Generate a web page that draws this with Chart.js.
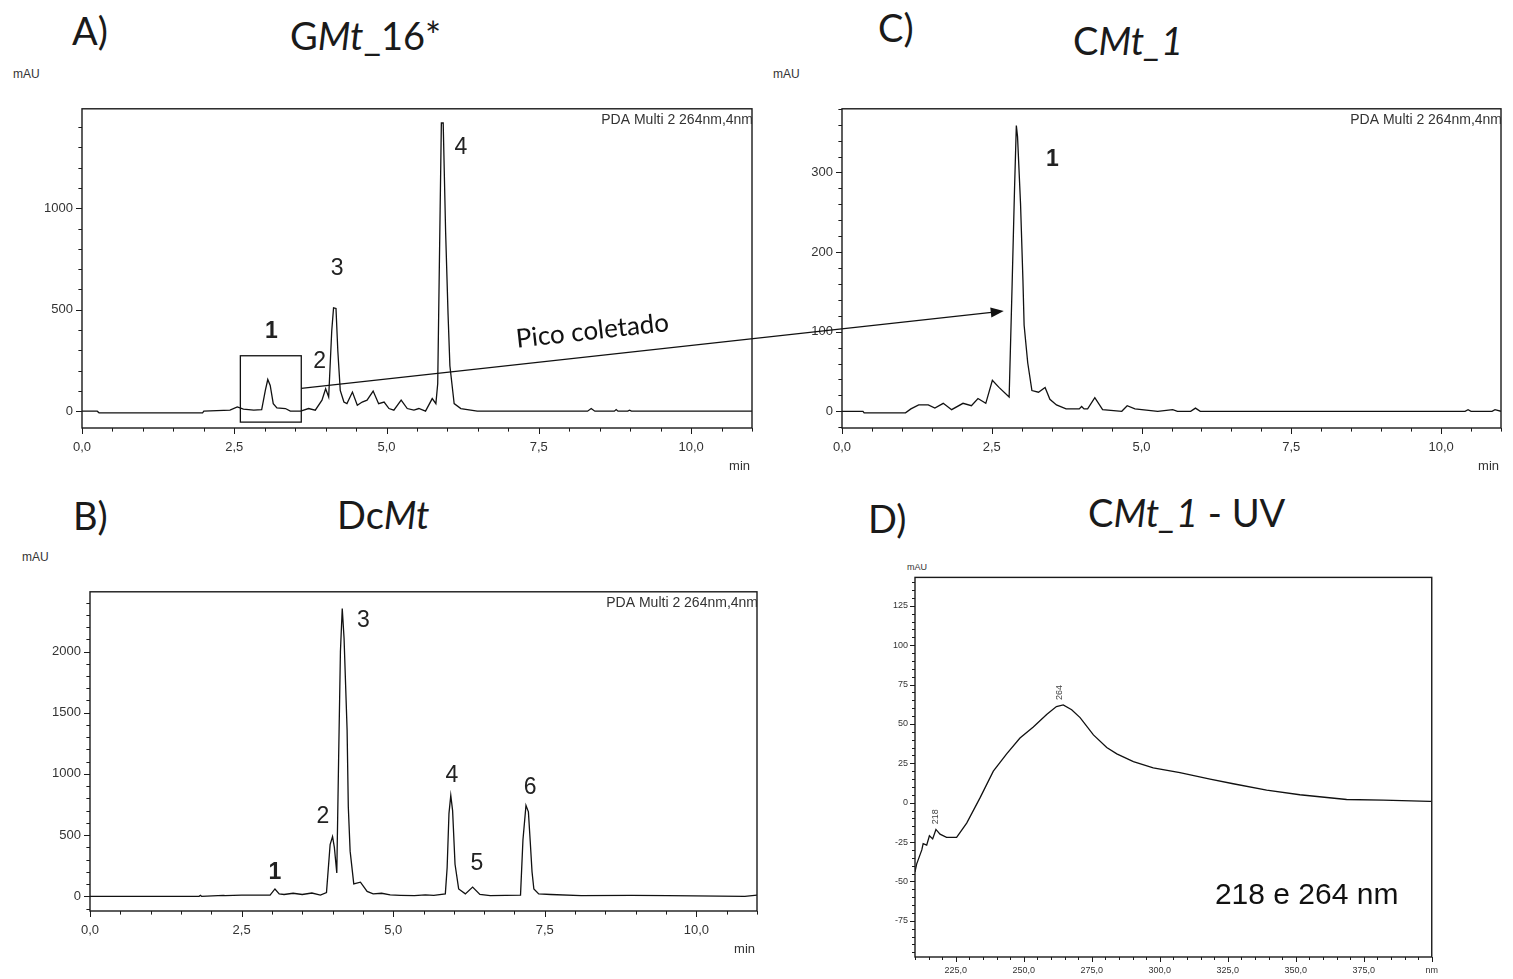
<!DOCTYPE html>
<html>
<head>
<meta charset="utf-8">
<title>Cromatogramas</title>
<script src="https://cdn.jsdelivr.net/npm/chart.js@4.4.1/dist/chart.umd.min.js"></script>
<style>
  html, body { margin: 0; padding: 0; background: #fff; }
  body { position: relative; width: 1513px; height: 979px; overflow: hidden; }
  canvas { position: absolute; }
  .title { position: absolute; font-family: Lato, 'Open Sans', sans-serif; font-size: 38px; line-height: 38px; color: #1a1a1a; white-space: nowrap; }
  .unit { position: absolute; font-family: 'Liberation Sans', Arial, sans-serif; font-size: 12px; color: #333; }
  #overlay { left: 0; top: 0; z-index: 5; pointer-events: none; }
</style>
</head>
<body>
<div class="title" style="left:72px;top:11px">A)</div>
<div class="title" style="left:290px;top:16px">G<i>Mt</i>_16*</div>
<div class="title" style="left:878px;top:8px">C)</div>
<div class="title" style="left:1073px;top:21px">C<i>Mt_1</i></div>
<div class="title" style="left:73px;top:496px">B)</div>
<div class="title" style="left:337px;top:495px">Dc<i>Mt</i></div>
<div class="title" style="left:868px;top:499px">D)</div>
<div class="title" style="left:1088px;top:493px">C<i>Mt_1</i> - UV</div>
<div class="unit" style="left:13px;top:67px">mAU</div>
<div class="unit" style="left:773px;top:67px">mAU</div>
<div class="unit" style="left:22px;top:550px">mAU</div>
<div class="unit" style="left:907px;top:562px;font-size:9px">mAU</div>
<canvas id="chartA"></canvas>
<canvas id="chartC"></canvas>
<canvas id="chartB"></canvas>
<canvas id="chartD"></canvas>
<canvas id="overlay" width="1513" height="979"></canvas>
<script>
// A) GMt_16* - retention time (min) / absorbance (mAU)
var timeA = [0, 0.25, 0.28, 1.98, 2.0, 2.43, 2.55, 2.65, 2.82, 2.95, 3.01, 3.05, 3.09, 3.14, 3.2,
  3.34, 3.42, 3.59, 3.72, 3.83, 3.94, 4.0, 4.05, 4.1, 4.13, 4.17, 4.2, 4.24, 4.3, 4.35,
  4.44, 4.52, 4.6, 4.68, 4.78, 4.87, 4.96, 5.04, 5.12, 5.24, 5.34, 5.45, 5.53, 5.64, 5.75,
  5.81, 5.84, 5.88, 5.9, 5.93, 5.97, 6.01, 6.04, 6.11, 6.22, 6.49, 8.3, 8.36, 8.42, 8.74,
  8.77, 8.8, 8.96, 8.99, 9.02, 11.0];
var mauA = [0, 0, -8, -8, 0, 5, 21, 10, 5, 8, 102, 156, 127, 37, 16,
  13, 0, 0, 13, 5, 54, 110, 70, 395, 509, 506, 298, 102, 45, 37,
  94, 29, 45, 54, 99, 37, 45, 13, 5, 54, 13, 5, 13, 0, 62,
  37, 135, 997, 1420, 1420, 882, 476, 224, 37, 13, 0, 0, 13, 0, 0,
  8, 0, 0, 5, 0, 0];

// C) CMt_1
var timeC = [0, 0.35, 0.37, 1.06, 1.15, 1.28, 1.44, 1.55, 1.69, 1.83, 2.02, 2.16, 2.27, 2.4, 2.51,
  2.62, 2.79, 2.84, 2.88, 2.91, 2.93, 2.98, 3.02, 3.04, 3.1, 3.17, 3.28, 3.39, 3.47, 3.58,
  3.74, 3.96, 4.0, 4.04, 4.1, 4.22, 4.35, 4.67, 4.76, 4.89, 5.27, 5.52, 5.6, 5.82, 5.9,
  5.98, 10.4, 10.45, 10.5, 10.85, 10.9, 11.0];
var mauC = [0, 0, -2, -2, 3, 8, 8, 4, 10, 2, 10, 7, 16, 10, 39,
  30, 18, 160, 280, 359, 345, 261, 165, 108, 61, 26, 24, 30, 15, 8,
  3, 3, 6, 3, 3, 17, 2, 0, 7, 3, 0, 2, 0, 0, 4,
  0, 0, 2, 0, 0, 2, 0];

// B) DcMt
var timeB = [0, 1.8, 1.82, 1.84, 2.2, 2.23, 2.5, 2.97, 3.05, 3.12, 3.2, 3.35, 3.5, 3.66, 3.8,
  3.9, 3.96, 4.0, 4.03, 4.07, 4.1, 4.13, 4.16, 4.19, 4.24, 4.26, 4.29, 4.35, 4.46, 4.57,
  4.67, 4.81, 4.95, 5.12, 5.35, 5.53, 5.67, 5.86, 5.89, 5.92, 5.95, 5.98, 6.02, 6.08, 6.19,
  6.31, 6.43, 6.6, 7.1, 7.14, 7.19, 7.23, 7.26, 7.29, 7.32, 7.4, 7.6, 8.1, 8.93, 9.53,
  10.8, 11.0];
var mauB = [0, 0, 8, 0, 8, 5, 10, 10, 60, 20, 15, 25, 15, 27, 10,
  30, 422, 488, 400, 190, 1118, 2000, 2352, 2107, 1358, 730, 369, 102, 115, 40,
  20, 25, 12, 8, 5, 12, 8, 20, 235, 676, 824, 700, 262, 60, 20,
  75, 15, 5, 10, 460, 743, 690, 450, 200, 60, 20, 15, 5, 8, 5,
  0, 10];

// D) CMt_1 UV spectrum - wavelength (nm) / absorbance (mAU)
var waveD = [210, 210.6, 212.5, 213, 214.3, 215.3, 216.5, 217.7, 219.2, 221.6, 225.3, 229, 233.9,
  238.8, 243.7, 248.6, 253.5, 258.4, 262, 264.5, 267.6, 270.7, 275.6, 280.5, 284.2, 290.3,
  297.6, 307.4, 318.5, 327, 339.3, 351.5, 368.7, 382.2, 399.3, 400];
var absD = [-44, -39, -30, -26, -27, -21, -23, -17, -20, -22, -22, -13, 3,
  20, 31, 41, 48, 56, 61, 62, 59, 54, 43, 35, 31, 26,
  22, 19, 15, 12, 8, 5, 2, 1.6, 0.8, 0.8];

// peak numbers: [x, y, text, bold]
var peaksA = [[3.11, 390, '1', true], [3.9, 244, '2'], [4.19, 702, '3'], [6.22, 1298, '4']];
var peaksC = [[3.51, 316, '1', true]];
var peaksB = [[3.05, 194, '1', true], [3.84, 648, '2'], [4.51, 2256, '3'], [5.97, 986, '4'], [6.38, 266, '5'], [7.26, 888, '6']];
var maximaD = [[217.4, -9, '218'], [263.3, 70, '264']];

var axisFont = 'Liberation Sans';
var detector = 'PDA Multi 2 264nm,4nm';

function comma(v) { return v.toFixed(1).replace('.', ','); }
function isMult(v, m) { var r = v / m; return Math.abs(r - Math.round(r)) < 1e-6; }

// ticks at every multiple of step inside the axis range
function stepTicks(step) {
  return function (scale) {
    var t = [];
    for (var k = Math.ceil(scale.min / step - 1e-9); k * step <= scale.max + 1e-9; k++) {
      t.push({ value: Math.round(k * step * 1000) / 1000 });
    }
    scale.ticks = t;
  };
}

function drawPeaks(chart, ctx, list) {
  ctx.fillStyle = '#222';
  ctx.textAlign = 'center';
  ctx.textBaseline = 'middle';
  list.forEach(function (p) {
    ctx.font = (p[3] ? 'bold ' : '') + '23px ' + axisFont;
    ctx.fillText(p[2], chart.scales.x.getPixelForValue(p[0]), chart.scales.y.getPixelForValue(p[1]));
  });
}

// frame, tick marks and texts inside the plot
function frame(spec) {
  return {
    id: 'frame',
    afterDraw: function (chart) {
      var ctx = chart.ctx, a = chart.chartArea, sx = chart.scales.x, sy = chart.scales.y;
      ctx.save();
      ctx.strokeStyle = '#1a1a1a';
      ctx.lineWidth = 1.4;
      ctx.strokeRect(a.left, a.top, a.right - a.left, a.bottom - a.top);
      ctx.lineWidth = 1;
      ctx.beginPath();
      sx.ticks.forEach(function (t) {
        var px = Math.round(sx.getPixelForValue(t.value)) + 0.5;
        var len = isMult(t.value, spec.xMajor) ? spec.tick : spec.tick * 0.6;
        ctx.moveTo(px, a.bottom); ctx.lineTo(px, a.bottom + len);
      });
      sy.ticks.forEach(function (t) {
        var py = Math.round(sy.getPixelForValue(t.value)) + 0.5;
        var len = isMult(t.value, spec.yMajor) ? spec.tick : spec.tick * 0.6;
        ctx.moveTo(a.left, py); ctx.lineTo(a.left - len, py);
      });
      ctx.stroke();
      ctx.fillStyle = '#333';
      ctx.textAlign = 'right';
      ctx.textBaseline = 'alphabetic';
      if (spec.note) {
        ctx.font = '14px ' + axisFont;
        ctx.fillText(spec.note, a.right + 1, a.top + 15);
      }
      if (spec.unit) {
        ctx.font = '13px ' + axisFont;
        ctx.fillText(spec.unit, a.right - 2, a.bottom + 42);
      }
      if (spec.draw) spec.draw(chart, ctx);
      ctx.restore();
    }
  };
}

function buildChart(id, area, xs, values, spec) {
  var cv = document.getElementById(id);
  cv.width = area.r - area.l + 60 + spec.padR;
  cv.height = area.b - area.t + 60;
  cv.style.left = (area.l - 60) + 'px';
  cv.style.top = (area.t - 10) + 'px';
  return new Chart(cv, {
    type: 'line',
    data: {
      datasets: [{
        data: xs.map(function (x, i) { return { x: x, y: values[i] }; }),
        borderColor: '#111', borderWidth: 1.3, pointRadius: 0, tension: 0, fill: false
      }]
    },
    options: {
      responsive: false, animation: false, events: [],
      layout: { padding: { top: 10, right: spec.padR, left: 0, bottom: 0 } },
      plugins: { legend: { display: false }, tooltip: { enabled: false } },
      scales: {
        x: {
          type: 'linear', min: spec.xMin, max: spec.xMax,
          afterBuildTicks: stepTicks(spec.xStep),
          afterFit: function (s) { s.height = 50; },
          grid: { display: false, drawTicks: false }, border: { display: false },
          ticks: { autoSkip: false, maxRotation: 0,
            padding: spec.xPad, color: '#333', font: { family: axisFont, size: spec.font },
            callback: spec.xLabel }
        },
        y: {
          type: 'linear', min: spec.yMin, max: spec.yMax,
          afterBuildTicks: stepTicks(spec.yStep),
          afterFit: function (s) { s.width = 60; },
          grid: { display: false, drawTicks: false }, border: { display: false },
          ticks: { autoSkip: false,
            padding: spec.yPad, color: '#333', font: { family: axisFont, size: spec.font },
            callback: spec.yLabel }
        }
      }
    },
    plugins: [frame(spec)]
  });
}

function timeLabel(v) { return isMult(v, 2.5) ? comma(v) : ''; }

var chartA = buildChart('chartA', { l: 82, t: 102, r: 752, b: 428 }, timeA, mauA, {
  xMin: 0, xMax: 11, xStep: 0.5, xMajor: 2.5, yMin: -83, yMax: 1490, yStep: 100, yMajor: 500,
  tick: 6, font: 13, xPad: 12, yPad: 9, padR: 18, unit: 'min', note: detector,
  xLabel: timeLabel,
  yLabel: function (v) { return isMult(v, 500) ? String(v) : ''; },
  draw: function (chart, ctx) {
    drawPeaks(chart, ctx, peaksA);
    var sx = chart.scales.x, sy = chart.scales.y;
    var x0 = sx.getPixelForValue(2.6), x1 = sx.getPixelForValue(3.6);
    var y0 = sy.getPixelForValue(273), y1 = sy.getPixelForValue(-54);
    ctx.strokeStyle = '#111';
    ctx.lineWidth = 1.3;
    ctx.strokeRect(x0, y0, x1 - x0, y1 - y0);
  }
});

var chartC = buildChart('chartC', { l: 842, t: 102, r: 1512, b: 428 }, timeC, mauC, {
  xMin: 0, xMax: 11, xStep: 0.5, xMajor: 2.5, yMin: -21, yMax: 380, yStep: 20, yMajor: 100,
  tick: 6, font: 13, xPad: 12, yPad: 9, padR: 1, unit: 'min', note: detector,
  xLabel: timeLabel,
  yLabel: function (v) { return isMult(v, 100) ? String(v) : ''; },
  draw: function (chart, ctx) { drawPeaks(chart, ctx, peaksC); }
});

var chartB = buildChart('chartB', { l: 90, t: 585, r: 757, b: 911 }, timeB, mauB, {
  xMin: 0, xMax: 11, xStep: 0.5, xMajor: 2.5, yMin: -120, yMax: 2488, yStep: 100, yMajor: 500,
  tick: 6, font: 13, xPad: 12, yPad: 9, padR: 18, unit: 'min', note: detector,
  xLabel: timeLabel,
  yLabel: function (v) { return isMult(v, 500) ? String(v) : ''; },
  draw: function (chart, ctx) { drawPeaks(chart, ctx, peaksB); }
});

var chartD = buildChart('chartD', { l: 915, t: 575, r: 1432, b: 957 }, waveD, absD, {
  xMin: 210, xMax: 400, xStep: 5, xMajor: 25, yMin: -98, yMax: 143, yStep: 5, yMajor: 25,
  tick: 5, font: 9, xPad: 8, yPad: 7, padR: 14,
  xLabel: function (v) { return v === 400 ? 'nm' : (isMult(v, 25) ? comma(v) : ''); },
  yLabel: function (v) { return isMult(v, 25) ? String(v) : ''; },
  draw: function (chart, ctx) {
    var sx = chart.scales.x, sy = chart.scales.y;
    ctx.fillStyle = '#444';
    ctx.font = '9px ' + axisFont;
    ctx.textAlign = 'center';
    ctx.textBaseline = 'middle';
    maximaD.forEach(function (m) {
      ctx.save();
      ctx.translate(sx.getPixelForValue(m[0]), sy.getPixelForValue(m[1]));
      ctx.rotate(-Math.PI / 2);
      ctx.fillText(m[2], 0, 0);
      ctx.restore();
    });
    ctx.fillStyle = '#111';
    ctx.font = '30px ' + axisFont;
    ctx.fillText('218 e 264 nm', sx.getPixelForValue(354), sy.getPixelForValue(-59));
  }
});

// arrow from the boxed peak in A to the collected peak in C
function pagePoint(chart, x, y) {
  var cv = chart.canvas;
  return { x: cv.offsetLeft + chart.scales.x.getPixelForValue(x), y: cv.offsetTop + chart.scales.y.getPixelForValue(y) };
}
var ov = document.getElementById('overlay').getContext('2d');
var p1 = pagePoint(chartA, 3.6, 112);
var p2 = pagePoint(chartC, 2.70, 126);
var ang = Math.atan2(p2.y - p1.y, p2.x - p1.x);
ov.strokeStyle = '#111';
ov.fillStyle = '#111';
ov.lineWidth = 1.3;
ov.beginPath();
ov.moveTo(p1.x, p1.y);
ov.lineTo(p2.x - 10 * Math.cos(ang), p2.y - 10 * Math.sin(ang));
ov.stroke();
ov.beginPath();
ov.moveTo(p2.x, p2.y);
ov.lineTo(p2.x - 13 * Math.cos(ang) + 5 * Math.sin(ang), p2.y - 13 * Math.sin(ang) - 5 * Math.cos(ang));
ov.lineTo(p2.x - 13 * Math.cos(ang) - 5 * Math.sin(ang), p2.y - 13 * Math.sin(ang) + 5 * Math.cos(ang));
ov.closePath();
ov.fill();
var tp = pagePoint(chartA, 8.38, 395);
ov.save();
ov.translate(tp.x, tp.y);
ov.rotate(ang);
ov.font = '26px Lato, "Open Sans", sans-serif';
ov.textAlign = 'center';
ov.textBaseline = 'middle';
ov.fillText('Pico coletado', 0, 0);
ov.restore();
</script>
</body>
</html>
